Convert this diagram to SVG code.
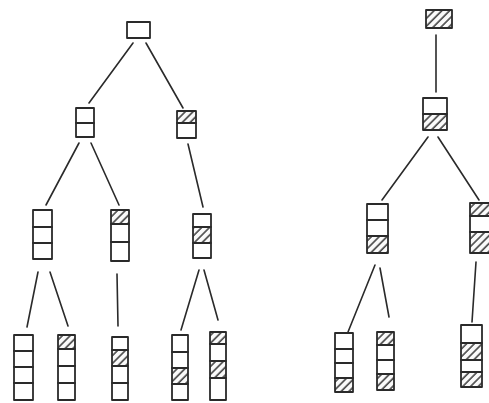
<svg xmlns="http://www.w3.org/2000/svg" width="489" height="403" viewBox="0 0 489 403">
<defs>
<pattern id="hatch" width="5.5" height="5.5" patternUnits="userSpaceOnUse" patternTransform="rotate(45)">
<rect width="5.5" height="5.5" fill="#fafafa"/>
<line x1="1" y1="0" x2="1" y2="5.5" stroke="#2a2a2a" stroke-width="1.4"/>
</pattern>
</defs>
<style>
.b{fill:none;stroke:#2a2a2a;stroke-width:1.8;stroke-linejoin:round;stroke-linecap:round}
.h{fill:url(#hatch);stroke:#2a2a2a;stroke-width:1.8;stroke-linejoin:round}
.c{fill:none;stroke:#2a2a2a;stroke-width:1.6;stroke-linecap:round}
</style>
<rect width="489" height="403" fill="#ffffff"/>

<g id="connectors">
<line class="c" x1="133" y1="43" x2="89" y2="103"/>
<line class="c" x1="146" y1="43" x2="183" y2="108"/>
<line class="c" x1="79" y1="143" x2="46" y2="205"/>
<line class="c" x1="91" y1="143" x2="119" y2="205"/>
<line class="c" x1="188" y1="144" x2="203" y2="207"/>
<line class="c" x1="38" y1="272" x2="27" y2="327"/>
<line class="c" x1="50" y1="272" x2="68" y2="326"/>
<line class="c" x1="117" y1="274" x2="118" y2="326"/>
<line class="c" x1="199" y1="270" x2="181" y2="330"/>
<line class="c" x1="204" y1="270" x2="218" y2="320"/>
<line class="c" x1="436" y1="35" x2="436" y2="92"/>
<line class="c" x1="428" y1="137" x2="382" y2="200"/>
<line class="c" x1="438" y1="137" x2="479" y2="200"/>
<line class="c" x1="375" y1="265" x2="348" y2="332"/>
<line class="c" x1="380" y1="268" x2="389" y2="317"/>
<line class="c" x1="476" y1="262" x2="472" y2="322"/>
</g>

<!-- Left tree -->
<g id="L0"><rect class="b" x="127" y="22" width="23" height="16"/></g>
<g id="L1a"><rect class="b" x="76" y="108" width="18" height="15"/><rect class="b" x="76" y="123" width="18" height="14"/></g>
<g id="L1b"><rect class="h" x="177" y="111" width="19" height="12"/><rect class="b" x="177" y="123" width="19" height="15"/></g>
<g id="L2a"><rect class="b" x="33" y="210" width="19" height="17"/><rect class="b" x="33" y="227" width="19" height="16"/><rect class="b" x="33" y="243" width="19" height="16"/></g>
<g id="L2b"><rect class="h" x="111" y="210" width="18" height="14"/><rect class="b" x="111" y="224" width="18" height="18"/><rect class="b" x="111" y="242" width="18" height="19"/></g>
<g id="L2c"><rect class="b" x="193" y="214" width="18" height="13"/><rect class="h" x="193" y="227" width="18" height="16"/><rect class="b" x="193" y="243" width="18" height="15"/></g>
<g id="L3a"><rect class="b" x="14" y="335" width="19" height="16"/><rect class="b" x="14" y="351" width="19" height="16"/><rect class="b" x="14" y="367" width="19" height="16"/><rect class="b" x="14" y="383" width="19" height="17"/></g>
<g id="L3b"><rect class="h" x="58" y="335" width="17" height="14"/><rect class="b" x="58" y="349" width="17" height="17"/><rect class="b" x="58" y="366" width="17" height="17"/><rect class="b" x="58" y="383" width="17" height="17"/></g>
<g id="L3c"><rect class="b" x="112" y="337" width="16" height="13"/><rect class="h" x="112" y="350" width="16" height="16"/><rect class="b" x="112" y="366" width="16" height="17"/><rect class="b" x="112" y="383" width="16" height="17"/></g>
<g id="L3d"><rect class="b" x="172" y="335" width="16" height="17"/><rect class="b" x="172" y="352" width="16" height="16"/><rect class="h" x="172" y="368" width="16" height="16"/><rect class="b" x="172" y="384" width="16" height="16"/></g>
<g id="L3e"><rect class="h" x="210" y="332" width="16" height="12"/><rect class="b" x="210" y="344" width="16" height="17"/><rect class="h" x="210" y="361" width="16" height="17"/><rect class="b" x="210" y="378" width="16" height="22"/></g>

<!-- Right tree -->
<g id="R0"><rect class="h" x="426" y="10" width="26" height="18"/></g>
<g id="R1"><rect class="b" x="423" y="98" width="24" height="16"/><rect class="h" x="423" y="114" width="24" height="16"/></g>
<g id="R2a"><rect class="b" x="367" y="204" width="21" height="16"/><rect class="b" x="367" y="220" width="21" height="16"/><rect class="h" x="367" y="236" width="21" height="17"/></g>
<g id="R2b"><rect class="h" x="470" y="203" width="22" height="13"/><rect class="b" x="470" y="216" width="22" height="16"/><rect class="h" x="470" y="232" width="22" height="21"/></g>
<g id="R3a"><rect class="b" x="335" y="333" width="18" height="16"/><rect class="b" x="335" y="349" width="18" height="14"/><rect class="b" x="335" y="363" width="18" height="15"/><rect class="h" x="335" y="378" width="18" height="14"/></g>
<g id="R3b"><rect class="h" x="377" y="332" width="17" height="13"/><rect class="b" x="377" y="345" width="17" height="15"/><rect class="b" x="377" y="360" width="17" height="14"/><rect class="h" x="377" y="374" width="17" height="16"/></g>
<g id="R3c"><rect class="b" x="461" y="325" width="21" height="18"/><rect class="h" x="461" y="343" width="21" height="17"/><rect class="b" x="461" y="360" width="21" height="12"/><rect class="h" x="461" y="372" width="21" height="15"/></g>
</svg>
